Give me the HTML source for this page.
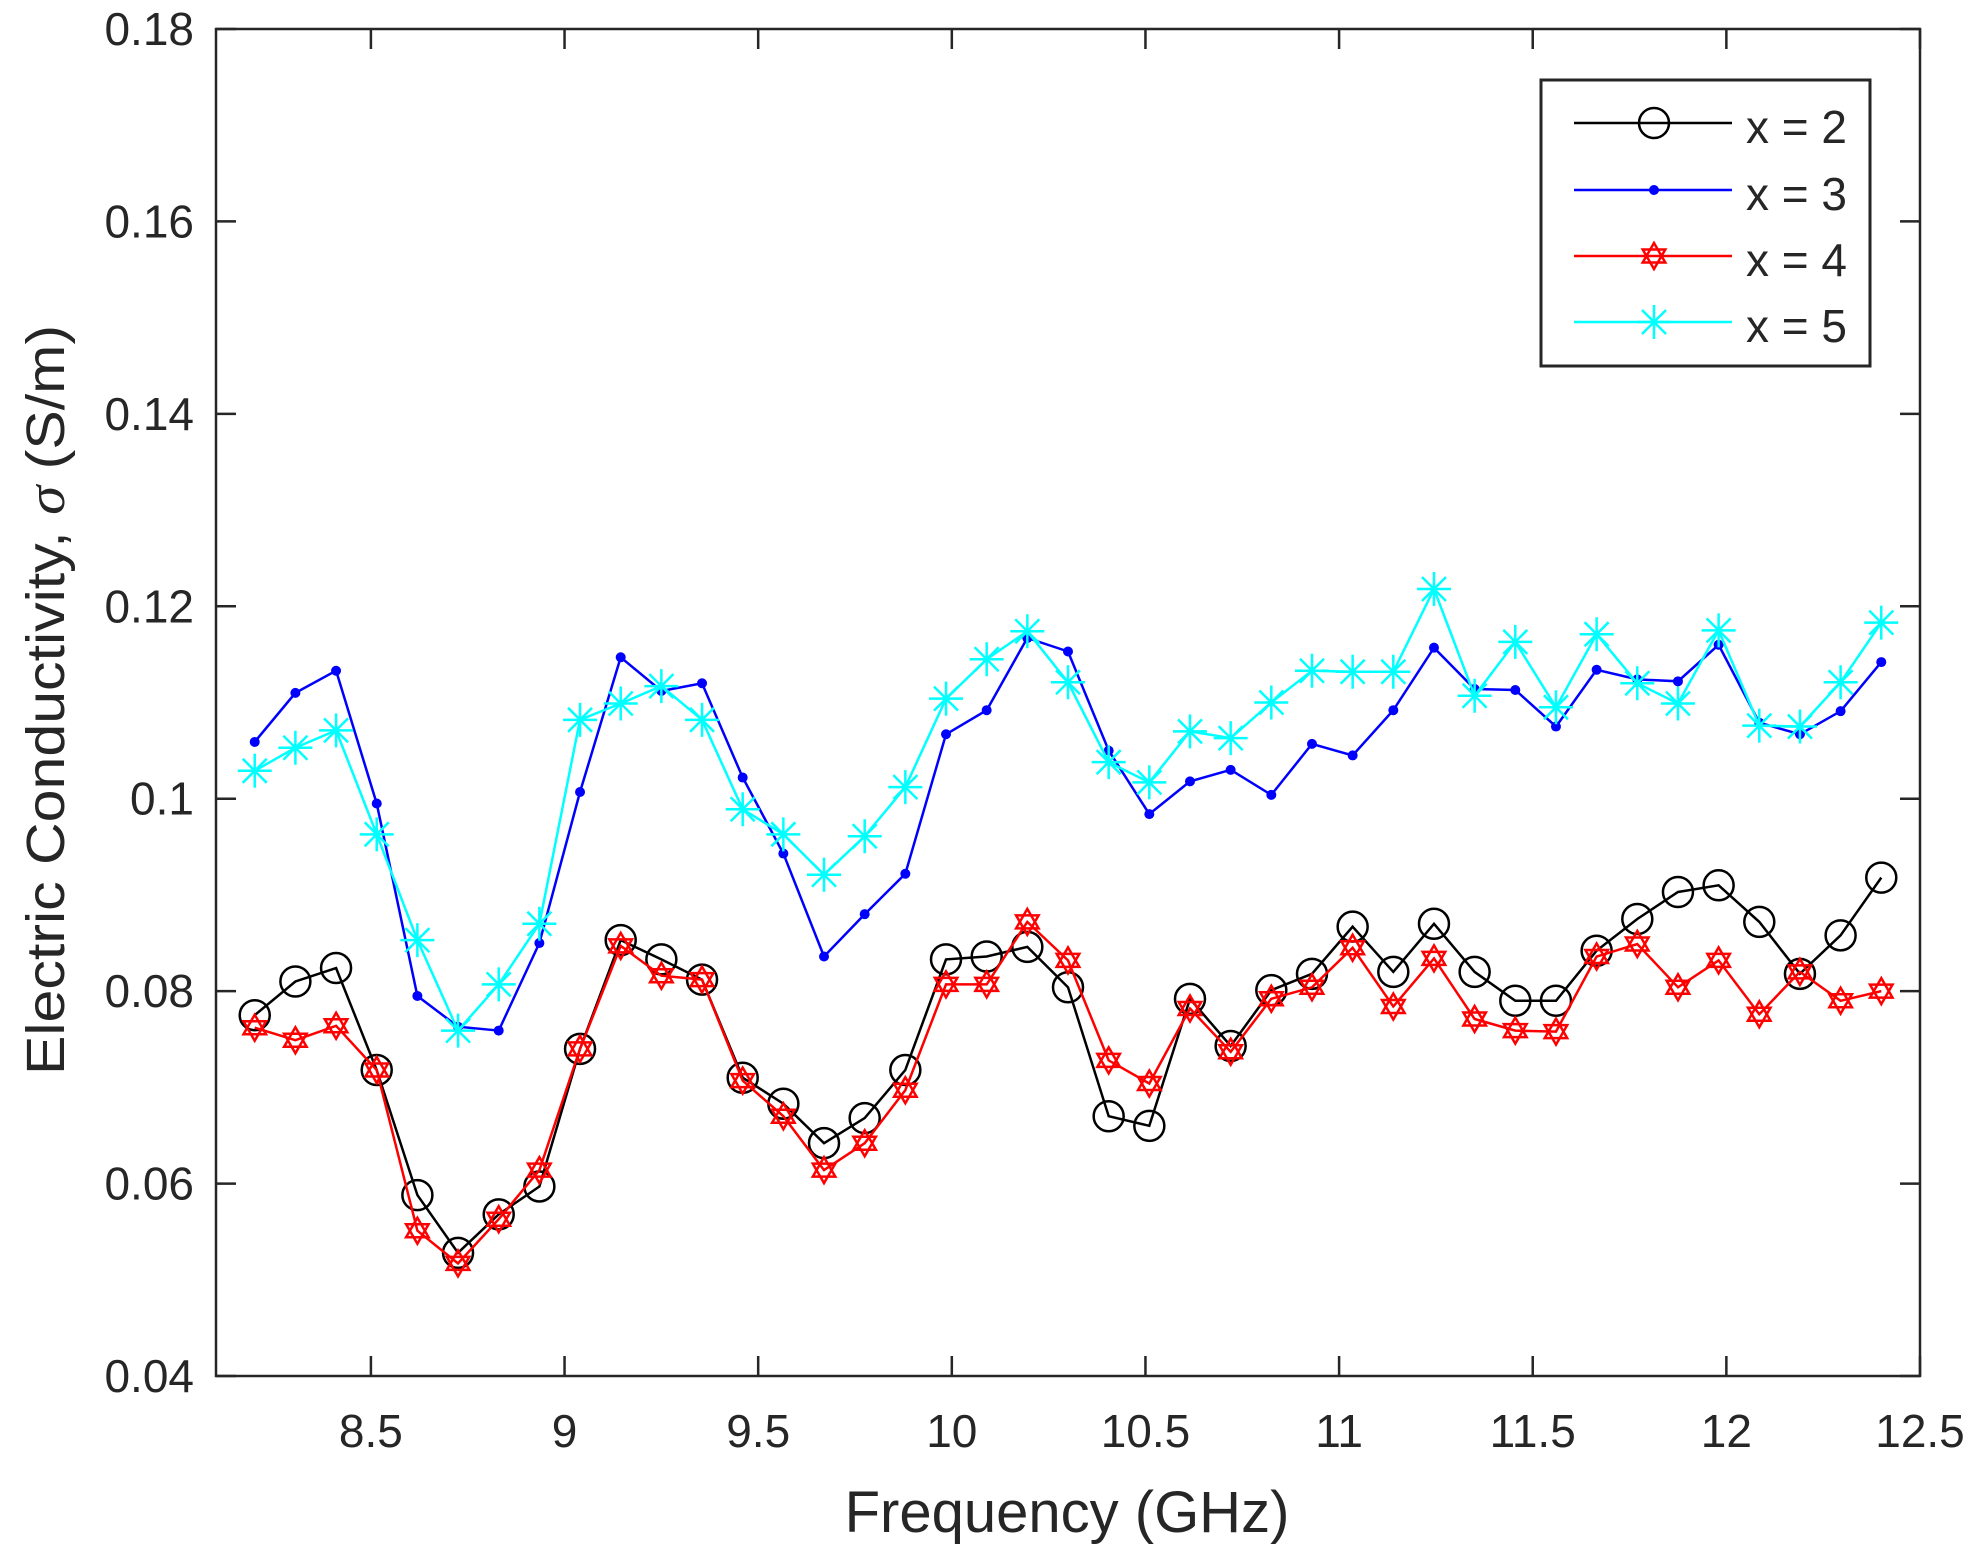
<!DOCTYPE html>
<html><head><meta charset="utf-8"><style>
html,body{margin:0;padding:0;background:#fff;}
svg{display:block;font-family:"Liberation Sans",Arial,sans-serif;}
</style></head><body>
<svg id="s" width="1986" height="1563" viewBox="0 0 1986 1563" xmlns="http://www.w3.org/2000/svg">
<rect width="1986" height="1563" fill="#fff"/>
<g id="plot"></g>
<text x="1067" y="1532" font-size="58" text-anchor="middle" fill="#262626">Frequency (GHz)</text>
<text transform="translate(64,700) rotate(-90)" font-size="54" text-anchor="middle" fill="#262626" textLength="750" lengthAdjust="spacingAndGlyphs">Electric Conductivity, <tspan font-family="Liberation Serif,serif" font-style="italic">σ</tspan> (S/m)</text>
</svg>
<script>
var L=216,R=1920,T=29,B=1376,X0=8.1,X1=12.5,Y0=0.04,Y1=0.18;
function px(x){return L+(x-X0)/(X1-X0)*(R-L);}
function py(y){return B-(y-Y0)/(Y1-Y0)*(B-T);}
var k=[0.0775,0.081,0.0824,0.0718,0.0588,0.0528,0.0568,0.0597,0.074,0.0853,0.0833,0.0812,0.071,0.0683,0.0642,0.0668,0.0718,0.0833,0.0836,0.0846,0.0804,0.067,0.066,0.0792,0.0743,0.0801,0.0818,0.0867,0.082,0.087,0.082,0.079,0.079,0.0842,0.0875,0.0903,0.091,0.0872,0.0818,0.0858,0.0918];
var r=[0.0762,0.0749,0.0764,0.0718,0.0551,0.0517,0.0563,0.0614,0.074,0.0847,0.0816,0.0812,0.0707,0.067,0.0614,0.0642,0.0697,0.0807,0.0807,0.0872,0.0832,0.0728,0.0704,0.0782,0.0737,0.0792,0.0804,0.0845,0.0784,0.0834,0.0771,0.0759,0.0758,0.0836,0.0849,0.0804,0.0832,0.0776,0.082,0.079,0.08];
var b=[0.1059,0.111,0.1133,0.0995,0.0795,0.0763,0.0759,0.085,0.1007,0.1147,0.1112,0.112,0.1022,0.0943,0.0836,0.088,0.0922,0.1067,0.1092,0.1167,0.1153,0.105,0.0984,0.1018,0.103,0.1004,0.1057,0.1045,0.1092,0.1157,0.1114,0.1113,0.1075,0.1134,0.1124,0.1122,0.116,0.1079,0.1067,0.1091,0.1142];
var c=[0.1029,0.1053,0.1071,0.0963,0.0853,0.0759,0.0807,0.087,0.1082,0.1099,0.1117,0.1082,0.0989,0.0963,0.0921,0.0961,0.1012,0.1104,0.1145,0.1174,0.1121,0.1038,0.1017,0.107,0.1063,0.11,0.1133,0.1132,0.1132,0.1218,0.1107,0.1163,0.1095,0.1171,0.112,0.1099,0.1175,0.1076,0.1075,0.1121,0.1183];
var h='';
function mk(type,x,y,col){
 if(type=='o')return '<circle cx="'+x+'" cy="'+y+'" r="15" fill="none" stroke="'+col+'" stroke-width="2.5"/>';
 if(type=='.')return '<circle cx="'+x+'" cy="'+y+'" r="5" fill="'+col+'"/>';
 if(type=='h'){var p1=[],p2=[];for(var i=0;i<3;i++){var a=-Math.PI/2+i*2*Math.PI/3;p1.push((x+13*Math.cos(a)).toFixed(1)+','+(y+13*Math.sin(a)).toFixed(1));a+=Math.PI;p2.push((x+13*Math.cos(a)).toFixed(1)+','+(y+13*Math.sin(a)).toFixed(1));}
  return '<polygon points="'+p1.join(' ')+'" fill="none" stroke="'+col+'" stroke-width="2.5"/><polygon points="'+p2.join(' ')+'" fill="none" stroke="'+col+'" stroke-width="2.5"/>';}
 if(type=='*'){var s='';var d=17,e=12;s+='<path d="M'+(x-d)+' '+y+'H'+(x+d)+'M'+x+' '+(y-d)+'V'+(y+d)+'M'+(x-e)+' '+(y-e)+'L'+(x+e)+' '+(y+e)+'M'+(x-e)+' '+(y+e)+'L'+(x+e)+' '+(y-e)+'" stroke="'+col+'" stroke-width="2.5"/>';return s;}
}
function series(d,col,type){
 var pts=d.map(function(v,i){return [px(8.2+0.105*i),py(v)];});
 h+='<polyline fill="none" stroke="'+col+'" stroke-width="2.5" points="'+pts.map(function(p){return p[0].toFixed(1)+','+p[1].toFixed(1)}).join(' ')+'"/>';
 pts.forEach(function(p){h+=mk(type,p[0],p[1],col);});
}
// axes ticks
var ax='';
for(var t=8.5;t<=12.5;t+=0.5){var x=px(t);ax+='<path d="M'+x+' '+B+'V'+(B-20)+'M'+x+' '+T+'V'+(T+20)+'" stroke="#262626" stroke-width="2.5"/>';
 ax+='<text x="'+x+'" y="1447" font-size="46" text-anchor="middle" fill="#262626">'+(Math.round(t*10)/10)+'</text>';}
for(var j=0;j<=7;j++){var v=0.04+0.02*j,y=py(v);ax+='<path d="M'+L+' '+y+'H'+(L+20)+'M'+R+' '+y+'H'+(R-20)+'" stroke="#262626" stroke-width="2.5"/>';
 var lab=(Math.round(v*100)/100).toString();if(lab=='0.1'){}else if(lab.length<4)lab=lab+'0';
 ax+='<text x="194" y="'+(y+16)+'" font-size="46" text-anchor="end" fill="#262626">'+lab+'</text>';}
series(b,'#0000ff','.');
series(c,'#00ffff','*');
series(k,'#000000','o');
series(r,'#ff0000','h');
h+=ax;
h+='<rect x="'+L+'" y="'+T+'" width="'+(R-L)+'" height="'+(B-T)+'" fill="none" stroke="#262626" stroke-width="2.5"/>';
// legend
h+='<rect x="1541" y="80" width="329" height="286" fill="#fff" stroke="#262626" stroke-width="3"/>';
var leg=[['#000','o','x = 2',123],['#0000ff','.','x = 3',190],['#ff0000','h','x = 4',256],['#00ffff','*','x = 5',322]];
leg.forEach(function(l){h+='<line x1="1574" x2="1732" y1="'+l[3]+'" y2="'+l[3]+'" stroke="'+l[0]+'" stroke-width="2.5"/>'+mk(l[1],1654,l[3],l[0])+'<text x="1746" y="'+(l[3]+20)+'" font-size="46" fill="#262626">'+l[2]+'</text>';});
document.getElementById('plot').innerHTML=h;
</script>
</body></html>
